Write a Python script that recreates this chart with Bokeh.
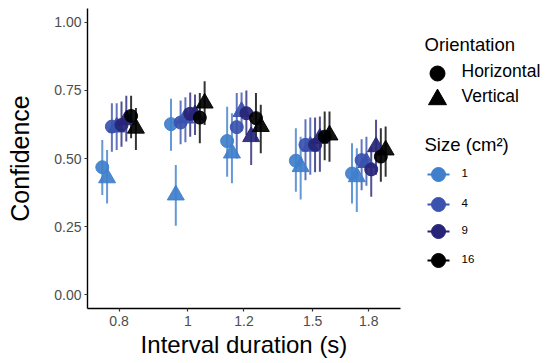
import numpy as np
from bokeh.plotting import figure
from bokeh.layouts import row
from bokeh.models import Range1d, FixedTicker, CustomJSTickFormatter, PrintfTickFormatter, ColumnDataSource
from bokeh.core.properties import value
from bokeh.embed import file_html
from bokeh.resources import INLINE

# ---------------- data ----------------
intervals = [0.8, 1.0, 1.2, 1.5, 1.8]
sizes = ["1", "4", "9", "16"]
orientations = ["Horizontal", "Vertical"]
size_colors = ["#3F7FCB", "#3953AE", "#272577", "#000000"]
y_ticks = [0.0, 0.25, 0.5, 0.75, 1.0]

# mean confidence per interval
mean_1_h = [0.468, 0.626, 0.564, 0.492, 0.445]
mean_1_v = [0.429, 0.366, 0.520, 0.470, 0.433]
mean_4_h = [0.617, 0.632, 0.615, 0.550, 0.494]
mean_4_v = [0.615, 0.648, 0.672, 0.545, 0.485]
mean_9_h = [0.623, 0.664, 0.666, 0.550, 0.460]
mean_9_v = [0.642, 0.660, 0.580, 0.574, 0.543]
mean_16_h = [0.656, 0.650, 0.648, 0.580, 0.507]
mean_16_v = [0.611, 0.703, 0.617, 0.586, 0.531]

# lower / upper ends of error bars
low_1_h = [0.366, 0.528, 0.433, 0.378, 0.335]
up_1_h = [0.568, 0.719, 0.690, 0.611, 0.556]
low_1_v = [0.335, 0.253, 0.409, 0.350, 0.304]
up_1_v = [0.531, 0.476, 0.666, 0.580, 0.538]
low_4_h = [0.525, 0.552, 0.500, 0.420, 0.384]
up_4_h = [0.703, 0.713, 0.740, 0.644, 0.571]
low_4_v = [0.531, 0.560, 0.600, 0.440, 0.400]
up_4_v = [0.703, 0.725, 0.742, 0.650, 0.580]
low_9_h = [0.543, 0.580, 0.585, 0.450, 0.360]
up_9_h = [0.709, 0.742, 0.749, 0.650, 0.543]
low_9_v = [0.562, 0.586, 0.476, 0.451, 0.440]
up_9_v = [0.730, 0.735, 0.641, 0.654, 0.642]
low_16_h = [0.574, 0.556, 0.562, 0.494, 0.415]
up_16_h = [0.730, 0.740, 0.740, 0.672, 0.611]
low_16_v = [0.531, 0.623, 0.519, 0.488, 0.433]
up_16_v = [0.685, 0.783, 0.697, 0.672, 0.617]

means = {("1", "Horizontal"): mean_1_h, ("1", "Vertical"): mean_1_v,
         ("4", "Horizontal"): mean_4_h, ("4", "Vertical"): mean_4_v,
         ("9", "Horizontal"): mean_9_h, ("9", "Vertical"): mean_9_v,
         ("16", "Horizontal"): mean_16_h, ("16", "Vertical"): mean_16_v}
lows = {("1", "Horizontal"): low_1_h, ("1", "Vertical"): low_1_v,
        ("4", "Horizontal"): low_4_h, ("4", "Vertical"): low_4_v,
        ("9", "Horizontal"): low_9_h, ("9", "Vertical"): low_9_v,
        ("16", "Horizontal"): low_16_h, ("16", "Vertical"): low_16_v}
ups = {("1", "Horizontal"): up_1_h, ("1", "Vertical"): up_1_v,
       ("4", "Horizontal"): up_4_h, ("4", "Vertical"): up_4_v,
       ("9", "Horizontal"): up_9_h, ("9", "Vertical"): up_9_v,
       ("16", "Horizontal"): up_16_h, ("16", "Vertical"): up_16_v}

FONT = "Liberation Sans"
DODGE_STEP = 0.0156  # dodge step in natural-log units (log x scale)
markers = {"Horizontal": "circle", "Vertical": "triangle"}
marker_sizes = {"Horizontal": 13, "Vertical": 17}

# ---------------- main plot ----------------
p = figure(width=408, height=360, x_axis_type="log",
           x_range=Range1d(0.722, 1.995), y_range=Range1d(-0.05, 1.05),
           output_backend="svg", toolbar_location=None,
           min_border_left=87, min_border_right=8, min_border_top=8, min_border_bottom=52)
p.grid.visible = False
p.outline_line_color = None
p.background_fill_color = "white"
p.border_fill_color = "white"

sources = []
for si, s in enumerate(sizes):
    for oi, o in enumerate(orientations):
        g = si * 2 + oi
        xs = [iv * np.exp((g - 3.5) * DODGE_STEP) for iv in intervals]
        src = ColumnDataSource(dict(x=xs, m=means[(s, o)], lo=lows[(s, o)], hi=ups[(s, o)]))
        sources.append((s, o, si, src))

for s, o, si, src in sources:
    p.segment(x0="x", x1="x", y0="lo", y1="hi", source=src,
              line_color=size_colors[si], line_width=2, line_alpha=0.8)
for s, o, si, src in sources:
    p.scatter(x="x", y="m", source=src, marker=markers[o], size=marker_sizes[o],
              fill_color=size_colors[si], line_color=size_colors[si], fill_alpha=0.92, line_alpha=0.92)

for ax in [p.xaxis[0], p.yaxis[0]]:
    ax.axis_line_color = "black"
    ax.axis_line_width = 1.4
    ax.major_tick_line_color = "#333333"
    ax.major_tick_line_width = 1.2
    ax.major_tick_in = 0
    ax.major_tick_out = 3
    ax.minor_tick_line_color = None
    ax.major_label_text_color = "#4D4D4D"
    ax.major_label_text_font = FONT
    ax.major_label_text_font_size = "14px"
    ax.axis_label_text_font = FONT
    ax.axis_label_text_font_style = "normal"
    ax.axis_label_text_color = "black"

p.xaxis.ticker = FixedTicker(ticks=intervals)
p.xaxis.formatter = CustomJSTickFormatter(code="return tick.toString();")
p.xaxis.axis_label = "Interval duration (s)"
p.xaxis.axis_label_text_font_size = "24px"
p.xaxis.major_label_standoff = 4
p.xaxis.axis_label_standoff = 2

p.yaxis.ticker = FixedTicker(ticks=y_ticks)
p.yaxis.formatter = PrintfTickFormatter(format="%.2f")
p.yaxis.axis_label = "Confidence"
p.yaxis.axis_label_text_font_size = "25px"
p.yaxis.major_label_standoff = 3
p.yaxis.axis_label_standoff = 17

# ---------------- legend panel ----------------
# the row aligns this frame with the main frame (page y 8..308), so the
# ranges below are expressed in page pixels
leg = figure(width=136, height=360, x_range=Range1d(408, 544), y_range=Range1d(308, 8),
             output_backend="svg", toolbar_location=None,
             x_axis_location=None, y_axis_location=None,
             min_border=0, min_border_left=0, min_border_right=0, min_border_top=8, min_border_bottom=52)
leg.grid.visible = False
leg.outline_line_color = None

title_x = 424
key_x = 437
label_x = 461

leg.text(x=[title_x], y=[44], text=["Orientation"], text_font=value(FONT),
         text_font_size="18.5px", text_baseline="middle", text_align="left", text_color="black")
orient_y = [70, 95]
for i, o in enumerate(orientations):
    leg.scatter(x=[key_x], y=[orient_y[i] + (3 if o == "Horizontal" else 4)], marker=markers[o],
                size=(15 if o == "Horizontal" else 18), color="black")
    leg.text(x=[label_x], y=[orient_y[i]], text=[o], text_font=value(FONT),
             text_font_size="17.5px", text_baseline="middle", text_align="left", text_color="black")

leg.text(x=[title_x], y=[144], text=["Size (cm²)"], text_font=value(FONT),
         text_font_size="18.5px", text_baseline="middle", text_align="left", text_color="black")
size_y = [174, 204, 231, 260]
for i, s in enumerate(sizes):
    leg.segment(x0=[key_x - 10], x1=[key_x + 12], y0=[size_y[i]], y1=[size_y[i]],
                line_color=size_colors[i], line_width=2)
    leg.scatter(x=[key_x + 1], y=[size_y[i]], marker="circle", size=14,
                color=size_colors[i])
    leg.text(x=[label_x], y=[size_y[i] - 2], text=[s], text_font=value(FONT),
             text_font_size="11.5px", text_baseline="middle", text_align="left", text_color="black")

layout = row(p, leg)
open("out.html", "w").write(file_html(layout, INLINE))
